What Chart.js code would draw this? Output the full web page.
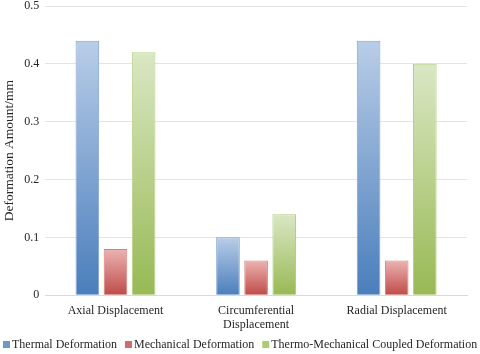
<!DOCTYPE html>
<html>
<head>
<meta charset="utf-8">
<script src="https://cdn.jsdelivr.net/npm/chart.js@4"></script>
<style>
  html, body { margin: 0; padding: 0; background: #fff; }
  #wrap { width: 480px; height: 354px; }
</style>
</head>
<body>
<div id="wrap"><canvas id="deformChart"></canvas></div>
<script>
const categories = ['Axial Displacement', ['Circumferential', 'Displacement'], 'Radial Displacement'];
const thermal = [0.44, 0.10, 0.44];
const mechanical = [0.08, 0.06, 0.06];
const coupled = [0.42, 0.14, 0.40];
const seriesNames = ['Thermal Deformation', 'Mechanical Deformation', 'Thermo-Mechanical Coupled Deformation'];

const serif = 'Liberation Serif';
const legendFills = ['#6e97cc', '#d06d6a', '#adcb76'];

// light at top, dark at bottom, per bar
function barGradient(light, dark) {
    return function (context) {
        const chart = context.chart;
        const area = chart.chartArea;
        if (!area || context.parsed === undefined) return dark;
        const y = chart.scales.y;
        const top = y.getPixelForValue(context.parsed.y);
        const bottom = y.getPixelForValue(0);
        if (!isFinite(top) || !isFinite(bottom) || top === bottom) return dark;
        const g = chart.ctx.createLinearGradient(0, top, 0, bottom);
        g.addColorStop(0, light);
        g.addColorStop(1, dark);
        return g;
    };
}

// compact one-line legend like the Excel original
const tightLegend = {
    id: 'tightLegend',
    afterDraw: function (chart) {
        const c = chart.ctx;
        const y = chart.height - 9;
        let x = 3;
        c.save();
        c.font = '12px ' + serif;
        c.textBaseline = 'middle';
        c.textAlign = 'left';
        chart.data.datasets.forEach(function (ds, i) {
            c.fillStyle = legendFills[i];
            c.fillRect(x, y - 4, 7, 7);
            x += 9;
            c.fillStyle = '#262626';
            c.fillText(ds.label, x, y);
            x += c.measureText(ds.label).width + 8;
        });
        c.restore();
    }
};

document.addEventListener('DOMContentLoaded', function () {
    const ctx = document.getElementById('deformChart').getContext('2d');
    Chart.defaults.font.family = serif;
    Chart.defaults.color = '#262626';

    new Chart(ctx, {
        type: 'bar',
        data: {
            labels: categories,
            datasets: [{
                label: seriesNames[0],
                data: thermal,
                backgroundColor: barGradient('#b9cde8', '#4a7ebb'),
                borderColor: '#7ea1d3',
                borderWidth: 1
            }, {
                label: seriesNames[1],
                data: mechanical,
                backgroundColor: barGradient('#ecb3b2', '#be4b48'),
                borderColor: '#d27f7d',
                borderWidth: 1
            }, {
                label: seriesNames[2],
                data: coupled,
                backgroundColor: barGradient('#dae7c4', '#98b954'),
                borderColor: '#b3cf7f',
                borderWidth: 1
            }]
        },
        options: {
            responsive: true,
            maintainAspectRatio: false,
            animation: false,
            layout: { padding: { left: 0, right: 13, top: 6, bottom: 14 } },
            datasets: {
                bar: { categoryPercentage: 0.6, barPercentage: 0.84 }
            },
            scales: {
                x: {
                    grid: { display: false, drawTicks: false },
                    border: { color: '#d9d9d9' },
                    ticks: { font: { family: serif, size: 12 }, maxRotation: 0, autoSkip: false, color: '#262626', padding: 8 }
                },
                y: {
                    min: 0,
                    max: 0.5,
                    afterFit: function (scale) { scale.paddingTop = 0; },
                    ticks: { stepSize: 0.1, font: { family: serif, size: 12 }, padding: 6, color: '#262626' },
                    grid: { color: '#e3e3e3', drawTicks: false },
                    border: { display: false },
                    title: { display: true, text: 'Deformation Amount/mm', font: { family: serif, size: 13.5 }, color: '#262626', padding: 1 }
                }
            },
            plugins: {
                legend: { display: false },
                title: { display: false },
                tooltip: { enabled: false }
            }
        },
        plugins: [tightLegend]
    });
});
</script>
</body>
</html>
